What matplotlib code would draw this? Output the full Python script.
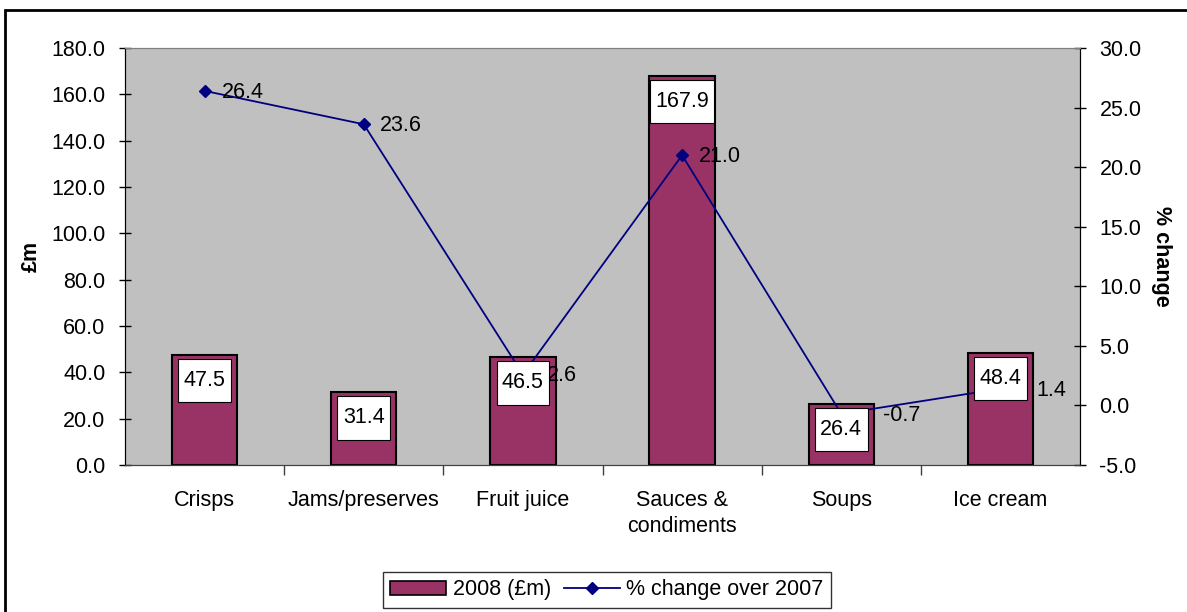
import matplotlib
matplotlib.use("Agg")
import matplotlib.pyplot as plt
from matplotlib.path import Path
from matplotlib.patches import Rectangle
from matplotlib.lines import Line2D
from matplotlib.ticker import FixedLocator, FormatStrFormatter

plt.rcParams['font.family'] = ['Liberation Sans', 'DejaVu Sans']

categories = ["Crisps", "Jams/preserves", "Fruit juice", "Sauces &\ncondiments", "Soups", "Ice cream"]
sales_2008 = [47.5, 31.4, 46.5, 167.9, 26.4, 48.4]
pct_change = [26.4, 23.6, 2.6, 21.0, -0.7, 1.4]
left_ticks = [0, 20, 40, 60, 80, 100, 120, 140, 160, 180]
right_ticks = [-5, 0, 5, 10, 15, 20, 25, 30]

BAR_COLOR = "#993366"
LINE_COLOR = "#000080"
PLOT_BG = "#C0C0C0"
FS = 15.5

fig = plt.figure(figsize=(11.87, 6.12), dpi=100)
ax = fig.add_axes([125 / 1187, 1 - 465 / 612, 955 / 1187, 417 / 612])
ax.set_facecolor(PLOT_BG)
ax2 = ax.twinx()

x = list(range(len(categories)))
ax.bar(x, sales_2008, width=0.41, color=BAR_COLOR, edgecolor="black", linewidth=1.5, zorder=2)
ax.set_xlim(-0.5, len(categories) - 0.5)
ax.set_ylim(0, 180)
ax.yaxis.set_major_locator(FixedLocator(left_ticks))
ax.yaxis.set_major_formatter(FormatStrFormatter("%.1f"))
ax.set_xticks(x)
ax.set_xticklabels(categories, fontsize=FS, linespacing=1.3)
ax.tick_params(axis="x", which="major", length=0, pad=18)
ax.set_xticks([i + 0.5 for i in x[:-1]], minor=True)
ax.tick_params(axis="x", which="minor", length=7, width=1, direction="out", color="#404040")
ax.tick_params(axis="y", length=8, direction="inout", labelsize=FS, pad=10, width=1)
ax.set_ylabel("£m", fontsize=FS, fontweight="bold", labelpad=7)

ax2.plot(x, pct_change, color=LINE_COLOR, linewidth=1.3, marker="D", markersize=6.5, zorder=3)
ax2.set_ylim(-5, 30)
ax2.yaxis.set_major_locator(FixedLocator(right_ticks))
ax2.yaxis.set_major_formatter(FormatStrFormatter("%.1f"))
ax2.tick_params(axis="y", length=8, direction="inout", labelsize=FS, pad=10, width=1)
ax2.set_ylabel("% change", fontsize=FS, fontweight="bold", rotation=-90, labelpad=22)

for a in (ax, ax2):
    a.spines["top"].set_color("#808080")
    a.spines["bottom"].set_color("#404040")
    a.spines["left"].set_color("black")
    a.spines["right"].set_color("black")

# value labels for the line, placed to the right of each marker (pixel offsets)
line_label_dx = [17, 16, 24, 17, 42, 36]
for xi, v, dx in zip(x, pct_change, line_label_dx):
    ax2.annotate(f"{v:.1f}", (xi, v), xytext=(dx * 0.72, -1), textcoords="offset points",
                 ha="left", va="center", fontsize=FS, zorder=5)


# white label boxes at the inside end of each bar
def label_box(x0, y0, width, height, mutation_size):
    px = 0.25 * mutation_size
    py = 0.52 * mutation_size
    x0, y0 = x0 - px, y0 - py
    x1, y1 = x0 + width + 2 * px, y0 + height + 2 * py
    return Path([(x0, y0), (x1, y0), (x1, y1), (x0, y1), (x0, y0)], closed=True)


for xi, v in zip(x, sales_2008):
    ax2.annotate(f"{v:.1f}", (xi, v), xycoords=ax.transData, xytext=(0, -18.5),
                 textcoords="offset points", ha="center", va="center", fontsize=FS,
                 bbox=dict(boxstyle=label_box, facecolor="white", edgecolor="black", linewidth=0.8),
                 zorder=6)

handles = [
    Rectangle((0, 0), 1, 1, facecolor=BAR_COLOR, edgecolor="black", linewidth=1.2),
    Line2D([], [], color=LINE_COLOR, linewidth=1.3, marker="D", markersize=6.5),
]
leg = fig.legend(handles, ["2008 (£m)", "% change over 2007"], loc="center",
                 bbox_to_anchor=(607 / 1187, 1 - 590 / 612), ncol=2, fontsize=FS,
                 frameon=True, fancybox=False, edgecolor="black", handlelength=2.6,
                 handleheight=0.6, handletextpad=0.3, columnspacing=0.6, borderpad=0.35)
leg.get_frame().set_linewidth(1.0)

# outer chart border
fig.patches.append(Rectangle((5 / 1187, -0.05), 1.2, 1 - 10 / 612 + 0.05,
                             transform=fig.transFigure, fill=False,
                             edgecolor="black", linewidth=2))

fig.savefig("out.png", dpi=100)
